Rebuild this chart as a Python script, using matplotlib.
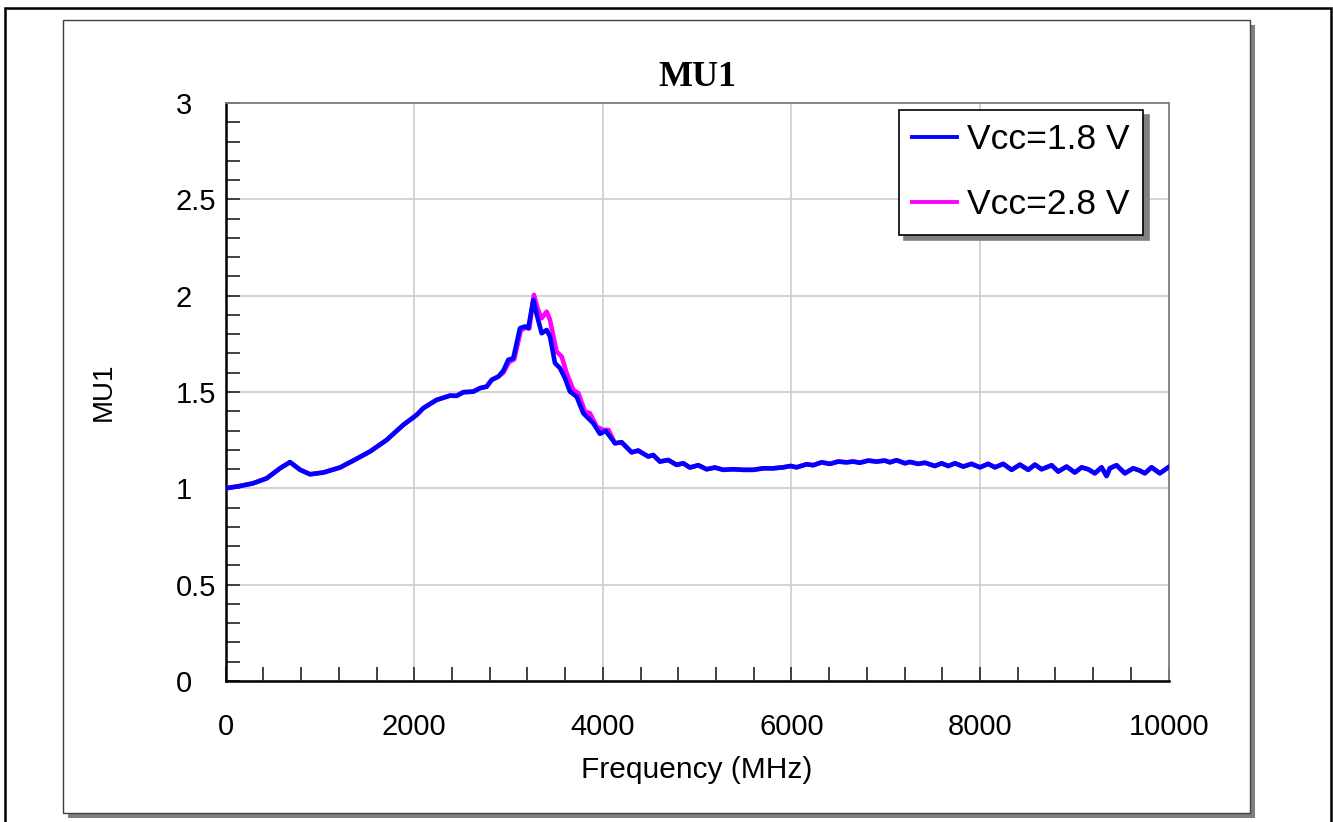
#!/usr/bin/env python3
"""MU1 stability factor vs frequency for two supply voltages."""
import numpy as np
import matplotlib
matplotlib.use("Agg")
import matplotlib.pyplot as plt
from matplotlib.patches import Rectangle
from matplotlib.ticker import MultipleLocator

# shared low-frequency part (MHz, MU1)
FREQ_LOW = [0, 150, 290, 435, 576, 682, 790, 894, 1035, 1212, 1353, 1530, 1707, 1883,
            2025, 2095, 2237, 2378, 2449, 2520, 2626, 2697, 2768, 2821, 2891]
MU_LOW = [1.000, 1.012, 1.026, 1.052, 1.104, 1.136, 1.096, 1.073, 1.082, 1.108, 1.144,
          1.191, 1.251, 1.329, 1.381, 1.416, 1.459, 1.481, 1.480, 1.499, 1.502, 1.520,
          1.528, 1.563, 1.580]

# resonance region, Vcc=1.8 V
FREQ_PK_18 = [2944, 2997, 3050, 3121, 3174, 3209, 3262, 3304, 3351, 3404, 3439, 3492,
              3545, 3598, 3651, 3722, 3792, 3845, 3898, 3969, 4030]
MU_PK_18 = [1.610, 1.667, 1.675, 1.831, 1.840, 1.831, 1.978, 1.892, 1.805, 1.822, 1.788,
            1.650, 1.624, 1.572, 1.502, 1.476, 1.390, 1.364, 1.338, 1.283, 1.298]

# resonance region, Vcc=2.8 V
FREQ_PK_28 = [2944, 3005, 3060, 3130, 3185, 3220, 3269, 3310, 3351, 3404, 3439, 3509,
              3563, 3616, 3686, 3740, 3810, 3863, 3934, 4004, 4060]
MU_PK_28 = [1.600, 1.655, 1.670, 1.820, 1.835, 1.830, 2.004, 1.930, 1.883, 1.917, 1.874,
            1.710, 1.684, 1.598, 1.511, 1.494, 1.398, 1.390, 1.320, 1.303, 1.303]

# shared high-frequency tail
FREQ_TAIL = [4128, 4199, 4305, 4375, 4481, 4534, 4605, 4693, 4782, 4853, 4923, 5012, 5100,
             5188, 5277, 5383, 5489, 5595, 5701, 5807, 5913, 5990, 6055, 6161, 6231, 6320,
             6408, 6496, 6585, 6655, 6726, 6814, 6903, 6991, 7044, 7115, 7203, 7256, 7344,
             7415, 7521, 7592, 7663, 7734, 7822, 7910, 7999, 8087, 8158, 8246, 8335, 8423,
             8511, 8582, 8653, 8706, 8759, 8829, 8918, 9006, 9077, 9147, 9218, 9289, 9342,
             9377, 9448, 9536, 9625, 9695, 9748, 9819, 9907, 10000]
MU_TAIL = [1.234, 1.239, 1.187, 1.196, 1.165, 1.173, 1.139, 1.147, 1.122, 1.130, 1.108,
           1.120, 1.099, 1.108, 1.096, 1.099, 1.096, 1.096, 1.104, 1.104, 1.109, 1.116,
           1.109, 1.125, 1.120, 1.135, 1.127, 1.139, 1.135, 1.139, 1.133, 1.144, 1.139,
           1.144, 1.135, 1.146, 1.130, 1.137, 1.127, 1.133, 1.116, 1.130, 1.116, 1.130,
           1.113, 1.127, 1.109, 1.127, 1.109, 1.127, 1.096, 1.123, 1.096, 1.123, 1.099,
           1.109, 1.120, 1.087, 1.113, 1.082, 1.109, 1.099, 1.078, 1.109, 1.064, 1.104,
           1.120, 1.078, 1.104, 1.092, 1.078, 1.109, 1.078, 1.110]

Y_TICKS = [0, 0.5, 1, 1.5, 2, 2.5, 3]
Y_TICKLABELS = ["0", "0.5", "1", "1.5", "2", "2.5", "3"]
LABELS = ["Vcc=1.8 V", "Vcc=2.8 V"]
C_18, C_28 = "#0000ff", "#ff00ff"
SANS = "Liberation Sans"
SERIF = "Liberation Serif"


def main():
    W, H = 1333, 822
    fig = plt.figure(figsize=(W / 100, H / 100), dpi=100)
    px = lambda x, y: (x / W, 1 - y / H)

    # outer frame + inner panel with drop shadow (behind the axes)
    fig.patches.append(Rectangle((5 / W, -0.05), 1326 / W, 1.05 - 8 / H, transform=fig.transFigure,
                                 fill=False, ec="black", lw=1.8, zorder=-3))
    x0, y0 = px(63, 813)
    pw, ph = (1250 - 63) / W, (813 - 20) / H
    fig.patches.append(Rectangle((x0 + 5 / W, y0 - 5 / H), pw, ph, transform=fig.transFigure,
                                 fc="#808080", ec="none", zorder=-2))
    fig.patches.append(Rectangle((x0, y0), pw, ph, transform=fig.transFigure,
                                 fc="white", ec="#404040", lw=1.0, zorder=-1))

    ax = fig.add_axes([225.7 / W, 1 - 681 / H, 942.9 / W, 578 / H])
    ax.set_facecolor("white")

    f18 = np.array(FREQ_LOW + FREQ_PK_18 + FREQ_TAIL, float)
    m18 = np.array(MU_LOW + MU_PK_18 + MU_TAIL, float)
    f28 = np.array(FREQ_LOW + FREQ_PK_28 + FREQ_TAIL, float)
    m28 = np.array(MU_LOW + MU_PK_28 + MU_TAIL, float)
    l28, = ax.plot(f28, m28, color=C_28, lw=3.3, solid_joinstyle="round", zorder=3)
    l18, = ax.plot(f18, m18, color=C_18, lw=3.3, solid_joinstyle="round", zorder=4)

    ax.set_xlim(0, 10000); ax.set_ylim(0, 3)
    ax.xaxis.set_major_locator(MultipleLocator(2000)); ax.xaxis.set_minor_locator(MultipleLocator(400))
    ax.yaxis.set_minor_locator(MultipleLocator(0.1))
    ax.set_yticks(Y_TICKS, Y_TICKLABELS)
    ax.tick_params(which="both", direction="in", length=10, width=1.3, color="#333333",
                   top=False, right=False)
    ax.tick_params(axis="x", which="major", pad=23, labelsize=21)
    ax.tick_params(axis="y", which="major", pad=36, labelsize=21)
    for t in ax.get_xticklabels() + ax.get_yticklabels():
        t.set_fontfamily(SANS)
    # y labels are left-aligned in the reference
    for t in ax.get_yticklabels():
        t.set_horizontalalignment("left")
    ax.grid(True, which="major", color="#d0d0d0", lw=1.3, zorder=0)
    ax.set_axisbelow(True)
    for s in ("left", "bottom"):
        ax.spines[s].set_color("black"); ax.spines[s].set_linewidth(1.8)
    for s in ("top", "right"):
        ax.spines[s].set_color("#808080"); ax.spines[s].set_linewidth(1.3)

    ax.set_xlabel("Frequency (MHz)", fontsize=21.5, fontfamily=SANS, labelpad=11)
    ax.set_ylabel("MU1", fontsize=20, fontfamily=SANS)
    ax.yaxis.set_label_coords(-0.116, 0.5)
    fig.text(697 / W, 1 - 78 / H, "MU1", ha="center", va="center", fontsize=26,
             fontweight="bold", fontfamily=SERIF)

    leg = ax.legend([l18, l28], LABELS, loc="upper right", bbox_to_anchor=(0.973, 0.988),
                    borderaxespad=0, fancybox=False, framealpha=1, edgecolor="black",
                    shadow={"ox": 4, "oy": -4, "color": "#808080", "alpha": 1},
                    prop={"family": SANS, "size": 25.5}, handlelength=1.27, handletextpad=0.28,
                    labelspacing=0.9, borderpad=0.38)
    leg.get_frame().set_linewidth(1.2)
    for h in leg.get_lines():
        h.set_linewidth(2.8)

    fig.savefig("out.png", dpi=100, facecolor="white")
    plt.close(fig)


if __name__ == "__main__":
    main()
